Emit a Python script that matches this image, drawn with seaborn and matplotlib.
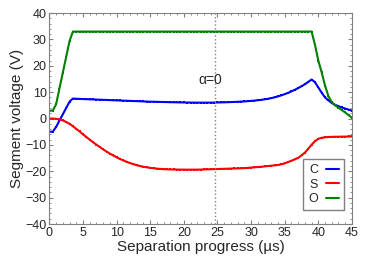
import numpy as np
import pandas as pd
import matplotlib
matplotlib.use("Agg")
import matplotlib.pyplot as plt
import seaborn as sns
from matplotlib.ticker import MultipleLocator

# time samples (µs)
t = np.arange(0, 45.01, 0.5)

seg_C = [-5.0, -5.0, -3.2, -0.8, 1.6, 4.0, 6.4, 7.6, 7.5, 7.45,
         7.4, 7.35, 7.3, 7.25, 7.2, 7.15, 7.1, 7.05, 7.0, 6.95,
         6.9, 6.85, 6.8, 6.75, 6.7, 6.65, 6.6, 6.55, 6.5, 6.45,
         6.4, 6.38, 6.35, 6.3, 6.28, 6.25, 6.2, 6.18, 6.15, 6.12,
         6.1, 6.08, 6.06, 6.05, 6.04, 6.03, 6.03, 6.04, 6.05, 6.07,
         6.1, 6.13, 6.16, 6.2, 6.25, 6.3, 6.36, 6.43, 6.5, 6.6,
         6.7, 6.82, 6.95, 7.1, 7.28, 7.5, 7.75, 8.05, 8.4, 8.8,
         9.25, 9.75, 10.3, 10.9, 11.55, 12.25, 13.0, 13.9, 14.8, 13.8,
         11.8, 9.8, 8.0, 6.9, 5.9, 5.2, 4.7, 4.2, 3.8, 3.4,
         3.0]

seg_S = [0.0, 0.0, -0.1, -0.3, -0.7, -1.3, -2.0, -2.9, -3.9, -4.9,
         -6.0, -7.0, -8.0, -9.0, -9.9, -10.8, -11.7, -12.5, -13.3, -14.0,
         -14.7, -15.3, -15.9, -16.4, -16.9, -17.3, -17.7, -18.0, -18.3, -18.5,
         -18.7, -18.85, -19.0, -19.1, -19.2, -19.25, -19.3, -19.32, -19.34, -19.36,
         -19.37, -19.38, -19.38, -19.38, -19.37, -19.35, -19.3, -19.26, -19.22, -19.18,
         -19.14, -19.1, -19.06, -19.02, -18.98, -18.94, -18.9, -18.85, -18.8, -18.7,
         -18.6, -18.5, -18.4, -18.3, -18.15, -18.0, -17.9, -17.75, -17.6, -17.35,
         -17.0, -16.5, -16.0, -15.5, -14.9, -14.0, -12.9, -11.5, -9.9, -8.6,
         -7.7, -7.3, -7.1, -7.0, -6.95, -6.9, -6.9, -6.85, -6.85, -6.8,
         -6.8]

seg_O = ([3.0, 3.0, 5.4, 11.4, 17.4, 23.4, 29.4]
         + [33.0] * 72
         + [28.0, 22.0, 17.5, 12.5, 8.5, 6.2, 5.0, 4.1, 3.2, 2.3, 1.3, 0.3])

df = pd.concat([
    pd.DataFrame({"t": t, "V": seg_C, "seg": "C"}),
    pd.DataFrame({"t": t, "V": seg_S, "seg": "S"}),
    pd.DataFrame({"t": t, "V": seg_O, "seg": "O"}),
])

sns.set_style("ticks")
plt.rcParams["font.family"] = ["Liberation Sans", "DejaVu Sans"]

fig = plt.figure(figsize=(3.74, 2.62), dpi=100)
ax = fig.add_axes([0.132, 0.145, 0.809, 0.805])

sns.lineplot(data=df, x="t", y="V", hue="seg",
             palette={"C": "blue", "S": "red", "O": "green"},
             marker="s", markersize=2.0, markeredgewidth=0,
             linewidth=1.5, ax=ax)

ax.axvline(24.6, color="grey", linestyle=":", linewidth=1)
ax.text(23.9, 14.5, "α=0", ha="center", va="center", fontsize=10)

ax.set_xlim(0, 45)
ax.set_ylim(-40, 40)
ax.xaxis.set_major_locator(MultipleLocator(5))
ax.xaxis.set_minor_locator(MultipleLocator(1))
ax.yaxis.set_major_locator(MultipleLocator(10))
ax.yaxis.set_minor_locator(MultipleLocator(2))
ax.tick_params(which="both", direction="in", top=True, right=True,
               color="grey", labelsize=9, pad=2)
ax.tick_params(which="major", length=3)
ax.tick_params(which="minor", length=1.5)
for s in ax.spines.values():
    s.set_color("grey")
    s.set_linewidth(0.8)

ax.set_xlabel("Separation progress (µs)", fontsize=11, labelpad=1)
ax.set_ylabel("Segment voltage (V)", fontsize=11, labelpad=1)

ax.legend(title=None, loc="lower right", bbox_to_anchor=(0.975, 0.065),
          borderaxespad=0, markerfirst=False, fancybox=False,
          edgecolor="grey", fontsize=9, handlelength=1.1,
          handletextpad=0.6, labelspacing=0.2, borderpad=0.4,
          framealpha=1)

fig.savefig("out.png", dpi=100)
